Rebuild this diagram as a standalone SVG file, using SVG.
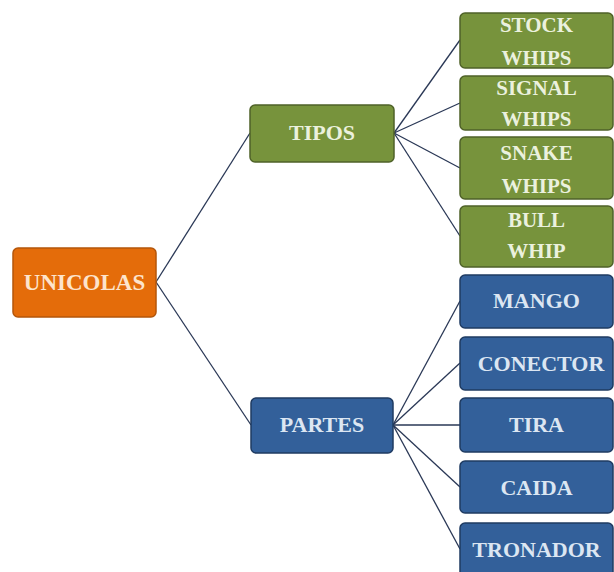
<svg xmlns="http://www.w3.org/2000/svg" width="614" height="572" viewBox="0 0 614 572">
<style>
.n{stroke-width:1.5}
.o{fill:#E46C0A;stroke:#B4560A}
.g{fill:#77933C;stroke:#4F6228}
.b{fill:#33609A;stroke:#1F3B62}
text{font-family:"Liberation Serif","Times New Roman",serif;font-weight:bold;text-anchor:middle}
.to{fill:#FDE4CC;font-size:23px}
.tg{fill:#EBF1DE;font-size:21px}
.tb{fill:#DCE6F2;font-size:22px}
.c path{fill:none;stroke:#2A3856;stroke-width:1.3}
</style>
<rect width="614" height="572" fill="#FFFFFF"/>
<g class="c" id="connectors">
<path d="M156 282L250 133"/>
<path d="M156 282L251 425"/>
<path d="M394 133L460 40"/>
<path d="M394 133L460 103"/>
<path d="M394 133L460 168"/>
<path d="M394 133L460 236"/>
<path d="M393 425L460 301"/>
<path d="M393 425L460 363"/>
<path d="M393 425L460 425"/>
<path d="M393 425L460 487"/>
<path d="M393 425L460 549"/>
</g>
<g id="unicolas"><rect class="n o" x="13" y="248" width="143" height="69" rx="5"/><text class="to" x="84.5" y="290">UNICOLAS</text></g>
<g id="tipos"><rect class="n g" x="250" y="105" width="144" height="57" rx="5"/><text class="tg" x="322" y="140" style="font-size:22px">TIPOS</text></g>
<g id="partes"><rect class="n b" x="251" y="398" width="142" height="55" rx="5"/><text class="tb" x="322" y="432">PARTES</text></g>
<g id="stock"><rect class="n g" x="460" y="13" width="153" height="55" rx="5"/><text class="tg" x="536.5" y="32">STOCK</text><text class="tg" x="536.5" y="65">WHIPS</text></g>
<g id="signal"><rect class="n g" x="460" y="76" width="153" height="54" rx="5"/><text class="tg" x="536.5" y="95">SIGNAL</text><text class="tg" x="536.5" y="126">WHIPS</text></g>
<g id="snake"><rect class="n g" x="460" y="137" width="153" height="62" rx="5"/><text class="tg" x="536.5" y="160">SNAKE</text><text class="tg" x="536.5" y="193">WHIPS</text></g>
<g id="bull"><rect class="n g" x="460" y="206" width="153" height="61" rx="5"/><text class="tg" x="536.5" y="227">BULL</text><text class="tg" x="536.5" y="258">WHIP</text></g>
<g id="mango"><rect class="n b" x="460" y="275" width="153" height="53" rx="5"/><text class="tb" x="536.5" y="308">MANGO</text></g>
<g id="conector"><rect class="n b" x="460" y="337" width="153" height="53" rx="5"/><text class="tb" x="541" y="371">CONECTOR</text></g>
<g id="tira"><rect class="n b" x="460" y="398" width="153" height="54" rx="5"/><text class="tb" x="536.5" y="432">TIRA</text></g>
<g id="caida"><rect class="n b" x="460" y="461" width="153" height="52" rx="5"/><text class="tb" x="536.5" y="495">CAIDA</text></g>
<g id="tronador"><rect class="n b" x="460" y="523" width="153" height="54" rx="5"/><text class="tb" x="536.5" y="557">TRONADOR</text></g>
</svg>
